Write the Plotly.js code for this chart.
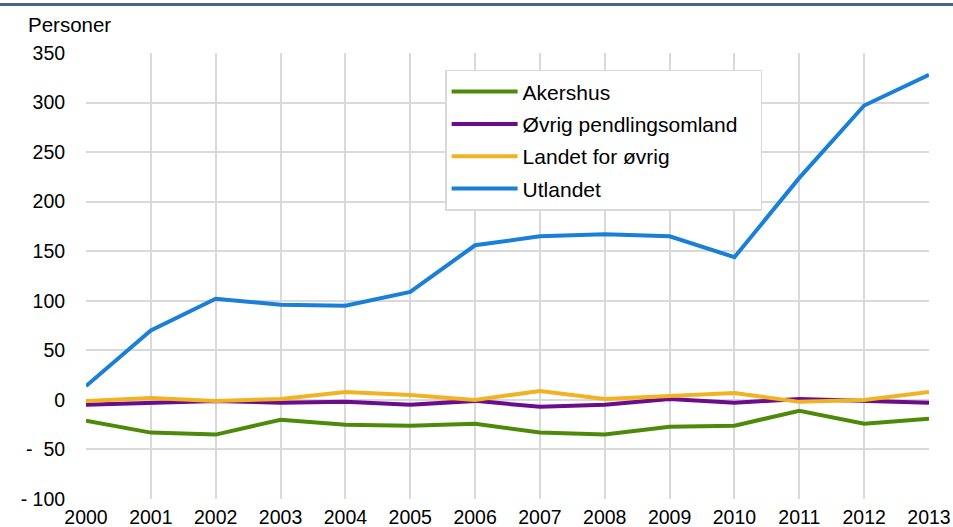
<!DOCTYPE html>
<html>
<head>
<meta charset="utf-8">
<script src="https://cdn.plot.ly/plotly-3.0.1.min.js"></script>
<style>
html,body{margin:0;padding:0;background:#fff;}
#wrap{position:relative;width:953px;height:527px;}
#bar{position:absolute;left:0;top:3px;width:953px;height:3px;background:#4a6491;z-index:5;}
#chart{position:absolute;left:0;top:0;width:953px;height:527px;}
</style>
</head>
<body>
<div id="wrap"><div id="chart"></div><div id="bar"></div></div>
<script>
const years = [2000,2001,2002,2003,2004,2005,2006,2007,2008,2009,2010,2011,2012,2013];
const akershus = [-21,-33,-35,-20,-25,-26,-24,-33,-35,-27,-26,-11,-24,-19];
const ovrigPendling = [-5,-3,-1,-3,-2,-5,-1,-7,-5,1,-3,1,-1,-3];
const landetForOvrig = [-1,2,-1,1,8,5,0,9,1,4,7,-2,0,8];
const utlandet = [14,70,102,96,95,109,156,165,167,165,144,224,297,328];
const seriesNames = ["Akershus","Øvrig pendlingsomland","Landet for øvrig","Utlandet"];
const seriesColors = ["#4e8a09","#6c0b8b","#f0b323","#1a7fd6"];
const yTickVals = [-100,-50,0,50,100,150,200,250,300,350];
const yTickText = ["- 100","-  50","0","50","100","150","200","250","300","350"];

// trailing no-break spaces only pad the legend box to the reference width
const pad = '\u00a0\u00a0\u00a0';
const data = [akershus, ovrigPendling, landetForOvrig, utlandet].map((v,i)=>({
  x: years, y: v, type:'scatter', mode:'lines', name: seriesNames[i] + (i===1 ? pad : ''),
  legendgroup: 'g'+i,
  line:{color: seriesColors[i], width:4}
}));

const font = 'Liberation Sans, Arial, sans-serif';
const layout = {
  width:953, height:527,
  margin:{l:86, r:24, t:53, b:28},
  paper_bgcolor:'#fff', plot_bgcolor:'#fff',
  font:{family:font, size:19, color:'#000'},
  showlegend:true,
  legend:{x:0.426, y:0.962, xanchor:'left', yanchor:'top',
    bgcolor:'#fff', bordercolor:'#d9d9d9', borderwidth:1.5,
    font:{family:font, size:21, color:'#000'}, tracegroupgap:2,
    itemwidth:66},
  xaxis:{range:[2000,2013], tickvals:years, ticktext:years.map(String),
    showgrid:true, gridcolor:'#d9d9d9', gridwidth:2, zeroline:false,
    showline:false, ticks:'outside', ticklen:1, tickcolor:'rgba(0,0,0,0)',
    tickfont:{family:font, size:19.5, color:'#000'}, fixedrange:true},
  yaxis:{range:[-100,350], tickvals:yTickVals, ticktext:yTickText,
    showgrid:true, gridcolor:'#d9d9d9', gridwidth:2, zeroline:false,
    showline:false, ticks:'outside', ticklen:16, tickcolor:'rgba(0,0,0,0)',
    tickfont:{family:font, size:19.5, color:'#000'}, fixedrange:true},
  annotations:[{text:'Personer', xref:'paper', yref:'paper', x:-0.071, y:1.065,
    xanchor:'left', yanchor:'middle', showarrow:false,
    font:{family:font, size:20.5, color:'#000'}}]
};
Plotly.newPlot('chart', data, layout, {displayModeBar:false, staticPlot:true});
</script>
</body>
</html>
